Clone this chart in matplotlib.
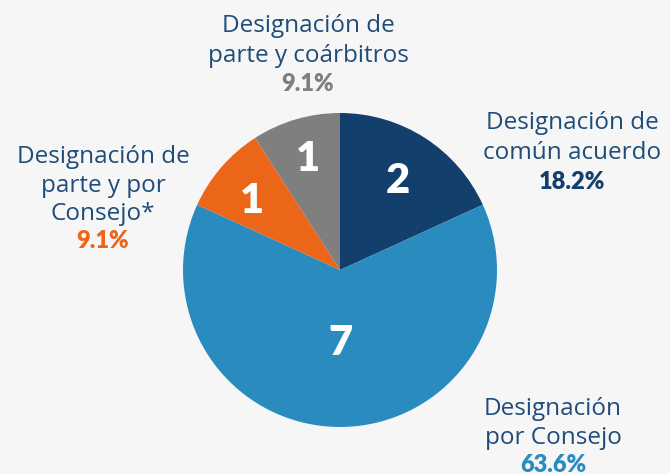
import matplotlib
matplotlib.use("Agg")
import matplotlib.pyplot as plt

# data
labels = ["Designación de\ncomún acuerdo", "Designación\npor Consejo",
          "Designación de\nparte y por\nConsejo*", "Designación de\nparte y coárbitros"]
counts = [2, 7, 1, 1]
pcts = ["18.2%", "63.6%", "9.1%", "9.1%"]
colors = ["#123F6B", "#2A8BBF", "#EB6619", "#7F7F80"]

W, H = 670, 474
fig = plt.figure(figsize=(6.7, 4.74), dpi=100, facecolor="#f6f6f7")
ax = fig.add_axes([0, 0, 1, 1])
ax.set_facecolor("#f6f6f7")

cx, cy, r = 340, H - 270, 157
ax.pie(counts, colors=colors, startangle=90, counterclock=False,
       center=(cx, cy), radius=r, frame=True, wedgeprops=dict(linewidth=0))
ax.set_xlim(0, W)
ax.set_ylim(0, H)
ax.set_aspect("equal")
ax.axis("off")

# numbers inside the slices
num_pos = [(398, 181), (340, 343), (252, 201), (308, 159)]
for n, (x, y) in zip(counts, num_pos):
    ax.text(x, H - y, str(n), color="white", fontsize=30, fontweight="heavy",
            family="Lato", ha="center", va="center")

# outer labels: x, y of first line, line step, pct y
lab_pos = [(572, 123, 29.5, 182), (553, 409, 29.5, 465),
           (103, 157, 28.5, 241), (308, 26, 29.5, 84)]
for lab, pct, col, (x, y, step, py) in zip(labels, pcts, colors, lab_pos):
    for i, line in enumerate(lab.split("\n")):
        ax.text(x, H - (y + i * step), line, color="#1f4c78", fontsize=17.5,
                family="Open Sans", ha="center", va="center")
    ax.text(x, H - py, pct, color=col, fontsize=17, fontweight="heavy",
            family="Lato", ha="center", va="center")

fig.savefig("out.png", dpi=100, facecolor=fig.get_facecolor())
